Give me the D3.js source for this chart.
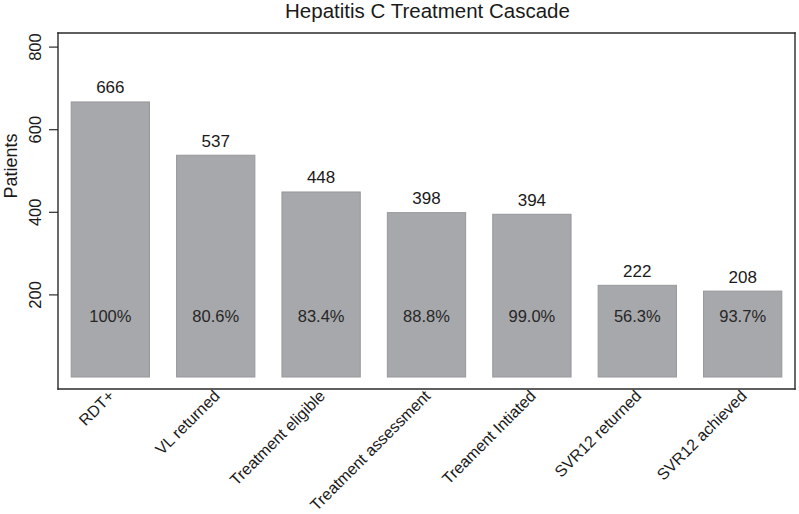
<!DOCTYPE html>
<html>
<head>
<meta charset="utf-8">
<script src="https://cdn.jsdelivr.net/npm/d3@7"></script>
<style>
  html, body { margin: 0; padding: 0; background: #fff; }
  text { font-family: "Liberation Sans", Arial, Helvetica, sans-serif; fill: #1a1a1a; }
</style>
</head>
<body>
<svg id="chart" width="799" height="514"></svg>
<script>
const categories = ["RDT+", "VL returned", "Treatment eligible", "Treatment assessment", "Treament Intiated", "SVR12 returned", "SVR12 achieved"];
const patients = [666, 537, 448, 398, 394, 222, 208];
const percents = ["100%", "80.6%", "83.4%", "88.8%", "99.0%", "56.3%", "93.7%"];
const yTicks = [200, 400, 600, 800];
const title = "Hepatitis C Treatment Cascade";
const yLabel = "Patients";

const svg = d3.select("#chart");
const frame = { left: 58, right: 795, top: 33, bottom: 389 };

const x = d3.scaleBand()
  .domain(categories)
  .range([frame.left, frame.right])
  .paddingInner(0.257)
  .paddingOuter(0.125);

const y = d3.scaleLinear()
  .domain([0, 800])
  .range([377, 46.6]);

// bars
svg.append("g").selectAll("rect")
  .data(categories)
  .join("rect")
  .attr("x", d => x(d))
  .attr("width", x.bandwidth())
  .attr("y", (d, i) => y(patients[i]))
  .attr("height", (d, i) => y(0) - y(patients[i]))
  .style("fill", "#a7a8ab")
  .style("stroke", "#97989b")
  .style("stroke-width", "1px");

// value labels above bars
svg.append("g").selectAll("text")
  .data(categories)
  .join("text")
  .attr("x", d => x(d) + x.bandwidth() / 2)
  .attr("y", (d, i) => y(patients[i]) - 8.5)
  .attr("text-anchor", "middle")
  .style("font-size", "17px")
  .text((d, i) => patients[i]);

// percentage labels inside bars
svg.append("g").selectAll("text")
  .data(categories)
  .join("text")
  .attr("x", d => x(d) + x.bandwidth() / 2)
  .attr("y", 322)
  .attr("text-anchor", "middle")
  .style("font-size", "16.5px")
  .style("fill", "#262626")
  .text((d, i) => percents[i]);

// frame (four lines)
const fg = svg.append("g");
const frameLines = [
  [frame.left, frame.top, frame.right, frame.top],
  [frame.right, frame.top, frame.right, frame.bottom],
  [frame.left, frame.bottom, frame.right, frame.bottom],
  [frame.left, frame.top, frame.left, frame.bottom]
];
fg.selectAll("line")
  .data(frameLines)
  .join("line")
  .attr("x1", d => d[0]).attr("y1", d => d[1])
  .attr("x2", d => d[2]).attr("y2", d => d[3])
  .style("stroke", "#2a2a2a")
  .style("stroke-width", "1.4px")
  .style("stroke-linecap", "square");

// y axis
const yAxis = d3.axisLeft(y).tickValues(yTicks).tickSize(9).tickPadding(0).tickFormat(d3.format("d"));
const gy = svg.append("g").attr("transform", `translate(${frame.left},0)`).call(yAxis);
gy.select(".domain").remove();
gy.selectAll(".tick line").style("stroke", "#2a2a2a").style("stroke-width", "1.2px");
gy.selectAll(".tick text")
  .attr("x", 0).attr("y", 0).attr("dy", null)
  .attr("transform", "translate(-17,0) rotate(-90)")
  .attr("text-anchor", "middle")
  .style("font-size", "16.5px")
  .style("font-family", '"Liberation Sans", Arial, sans-serif')
  .style("fill", "#1a1a1a");

// x labels rotated
svg.append("g").selectAll("text")
  .data(categories)
  .join("text")
  .attr("transform", d => `translate(${x(d) + x.bandwidth() / 2 + 5},397) rotate(-45)`)
  .attr("text-anchor", "end")
  .style("font-size", "16px")
  .text(d => d);

// title
svg.append("text")
  .attr("x", 427.5)
  .attr("y", 17.5)
  .attr("text-anchor", "middle")
  .style("font-size", "20.5px")
  .text(title);

// y label
svg.append("text")
  .attr("transform", "translate(16.5,166) rotate(-90)")
  .attr("text-anchor", "middle")
  .style("font-size", "18px")
  .text(yLabel);
</script>
</body>
</html>
